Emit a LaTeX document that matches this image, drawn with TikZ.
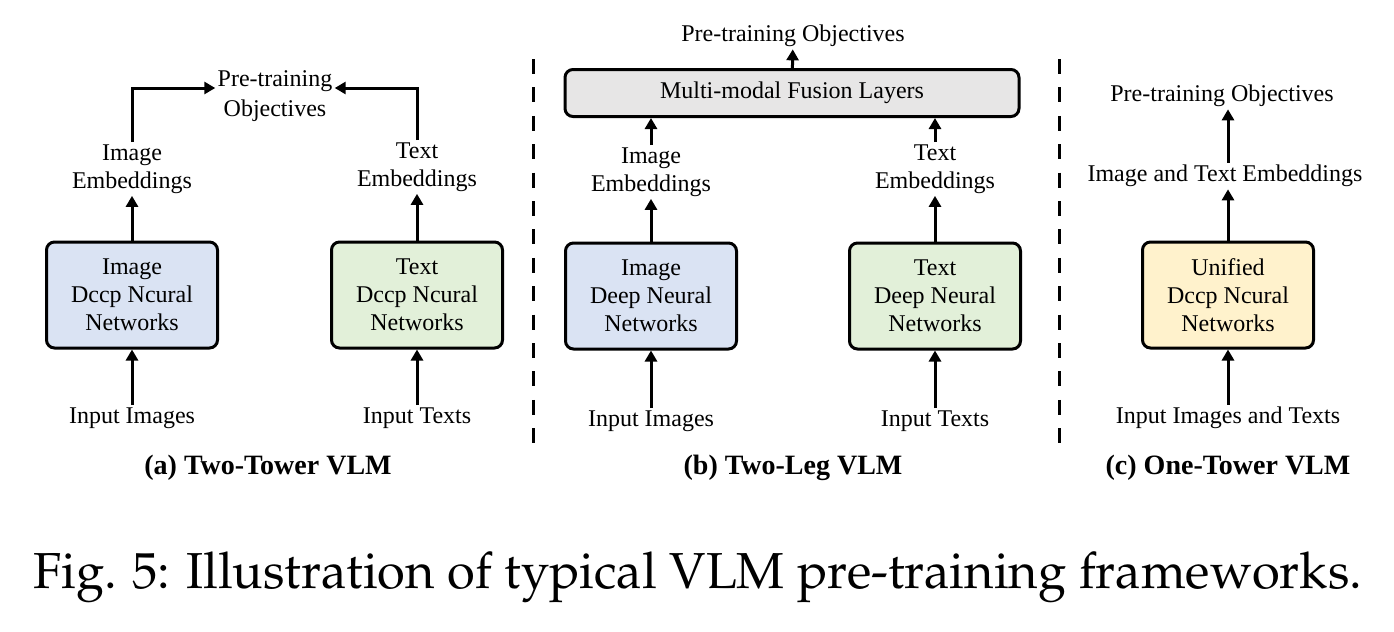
\documentclass[tikz,border=0pt]{standalone}
\usepackage{fontspec}
\setmainfont{Liberation Serif}
\usetikzlibrary{arrows.meta}
\definecolor{imgblue}{HTML}{DAE3F3}
\definecolor{txtgreen}{HTML}{E2F0D9}
\definecolor{unifyellow}{HTML}{FFF2CC}
\definecolor{fusegray}{HTML}{E7E6E6}
\newcommand{\capfont}{\fontencoding{OT1}\fontfamily{ppl}\fontsize{25.3}{30}\selectfont}
\tikzstyle{netbox}=[
    draw,
    line width=1.5pt,
    rounded corners=4pt,
    minimum width=85.5pt,
    minimum height=53pt,
    inner sep=0pt,
    align=center
]
\tikzstyle{lbl}=[align=center, inner sep=1pt]
\tikzstyle{flow}=[line width=1.5pt, -{Triangle[length=5.5pt,width=6pt]}]
\tikzstyle{divider}=[line width=1.5pt, dash pattern=on 7.5pt off 6.7pt]
\tikzstyle{subcap}=[font=\fontsize{14}{16}\selectfont\bfseries]

\begin{document}
\begin{tikzpicture}[x=0.5pt, y=-0.5pt, every node/.style={font=\fontsize{12}{14}\selectfont}]
        \useasboundingbox (0,0) rectangle (1394,632);

        % two-tower
        \node[netbox, fill=imgblue] (aimg) at (132,295) {Image\\Dccp Ncural\\Networks};
        \node[netbox, fill=txtgreen] (atxt) at (417,295) {Text\\Dccp Ncural\\Networks};

        \node[lbl] (aimgin) at (132,418) {Input Images};
        \node[lbl] (atxtin) at (417,418) {Input Texts};
        \node[lbl] (aimgemb) at (132,169) {Image\\Embeddings};
        \node[lbl] (atxtemb) at (417,167) {Text\\Embeddings};
        \node[lbl, font=\fontsize{12}{15}\selectfont] (aobj) at (275,96) {Pre-training\\Objectives};

        \draw[flow] (aimgin) -- (aimg);
        \draw[flow] (atxtin) -- (atxt);
        \draw[flow] (aimg) -- (aimgemb);
        \draw[flow] (atxt) -- (atxtemb);
        \draw[flow] (aimgemb) |- ([yshift=4pt]aobj.west);
        \draw[flow] (atxtemb) |- ([yshift=4pt]aobj.east);

        \node[subcap] (acap) at (268,468) {(a) Two-Tower VLM};

        % two-leg
        \draw[divider] (533,59) -- (533,450);
        \draw[divider] (1059,59) -- (1059,450);

        \node[draw, line width=1.5pt, rounded corners=4pt, fill=fusegray, minimum width=227pt, minimum height=23.5pt, inner sep=0pt] (bfuse) at (792,93) {Multi-modal Fusion Layers};
        \node[netbox, fill=imgblue] (bimg) at (651,296) {Image\\Deep Neural\\Networks};
        \node[netbox, fill=txtgreen] (btxt) at (935,296) {Text\\Deep Neural\\Networks};

        \node[lbl] (bimgin) at (651,421) {Input Images};
        \node[lbl] (btxtin) at (935,421) {Input Texts};
        \node[lbl] (bimgemb) at (651,172) {Image\\Embeddings};
        \node[lbl] (btxtemb) at (935,169) {Text\\Embeddings};
        \node[lbl] (bobj) at (793,36) {Pre-training Objectives};

        \draw[flow] (bimgin) -- (bimg);
        \draw[flow] (btxtin) -- (btxt);
        \draw[flow] (bimg) -- (bimgemb);
        \draw[flow] (btxt) -- (btxtemb);
        \draw[flow] (bimgemb) -- (bimgemb |- bfuse.south);
        \draw[flow] (btxtemb) -- (btxtemb |- bfuse.south);
        \draw[flow] (bfuse) -- (bobj);

        \node[subcap] (bcap) at (793,468) {(b) Two-Leg VLM};

        % one-tower
        \node[netbox, fill=unifyellow] (cuni) at (1228,295) {Unified\\Dccp Ncural\\Networks};

        \node[lbl] (cin) at (1228,418) {Input Images and Texts};
        \node[lbl] (cemb) at (1225,176) {Image and Text Embeddings};
        \node[lbl] (cobj) at (1222,96) {Pre-training Objectives};

        \draw[flow] (cin) -- (cuni);
        \draw[flow] (cuni) -- (cuni |- cemb.south);
        \draw[flow] (cuni |- cemb.north) -- (cuni |- cobj.south);

        \node[subcap] (ccap) at (1228,468) {(c) One-Tower VLM};

        % caption
        \node[anchor=base west, inner sep=0pt, font=\capfont] (fig) at (33,588) {Fig. 5: Illustration of typical VLM pre-training frameworks.};
\end{tikzpicture}
\end{document}
